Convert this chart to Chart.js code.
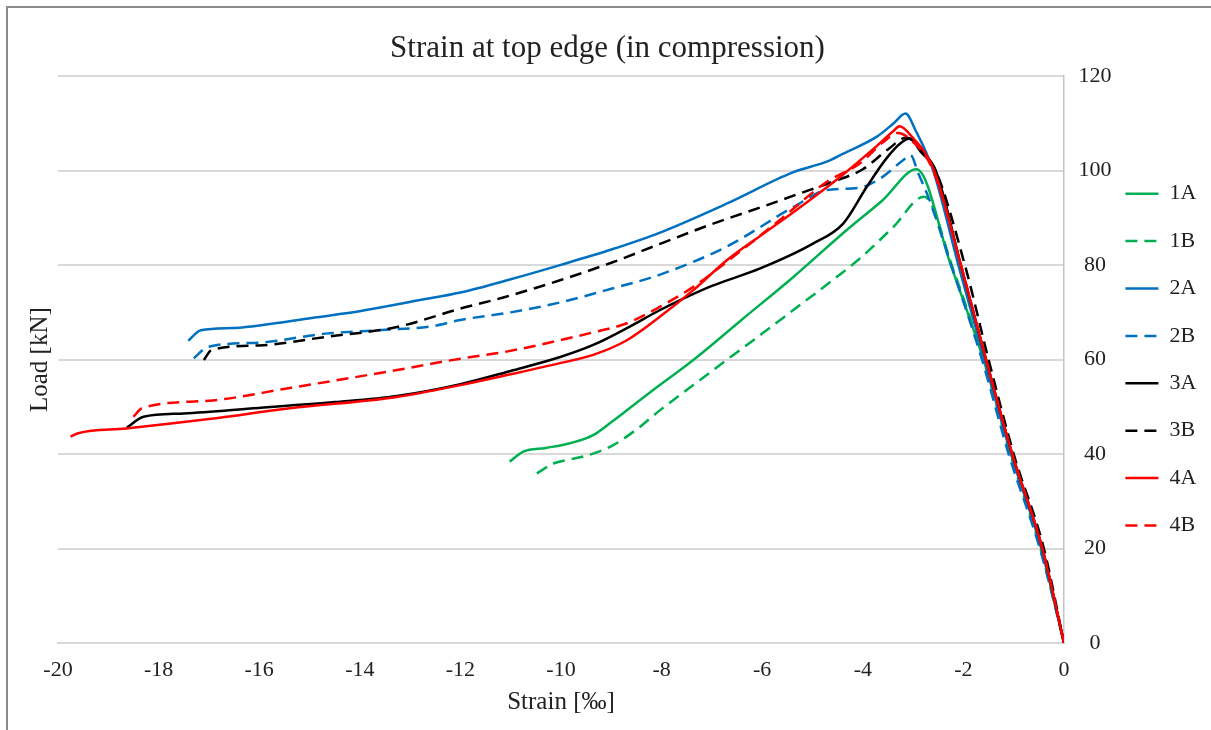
<!DOCTYPE html>
<html>
<head>
<meta charset="utf-8">
<script src="https://cdn.jsdelivr.net/npm/chart.js@4/dist/chart.umd.min.js"></script>
<style>
  html, body { margin: 0; padding: 0; background: #fff; }
  #wrap { position: relative; width: 1211px; height: 730px; overflow: hidden; }
  #frame { position: absolute; left: 6px; top: 6px; width: 1400px; height: 900px;
           border-left: 2px solid #8c8c8c; border-top: 2px solid #8c8c8c; }
  canvas { position: absolute; left: 0; top: 0; }
</style>
</head>
<body>
<div id="wrap"><div id="frame"></div><canvas id="c" width="1211" height="730"></canvas></div>
<script>
// strain [‰] / load [kN]
const x1A = [-11.02, -10.75, -10.3, -9.82, -9.36, -9.03, -8.2, -7.37, -6.4, -5.38, -4.4, -3.6, -2.93, -2.25, -1.6, -1.05, -0.45, 0];
const y1A = [38.4, 40.5, 41.3, 42.3, 44.0, 46.5, 53.3, 59.9, 68.5, 77.5, 86.7, 93.8, 100.3, 80, 60, 40, 20, 0];

const x1B = [-10.48, -10.15, -9.8, -9.36, -8.96, -8.5, -8.03, -7.37, -6.71, -6.0, -5.38, -4.7, -4.06, -3.4, -2.78, -2.2, -1.6, -1.07, -0.47, 0];
const y1B = [35.9, 38.0, 38.9, 40.1, 41.9, 45.2, 49.3, 54.6, 59.9, 65.5, 70.5, 76.0, 81.4, 88.0, 94.5, 79, 60, 40, 20, 0];

const x2A = [-17.41, -17.16, -16.5, -15.75, -14.9, -13.98, -12.8, -12.0, -11.0, -10.02, -9.0, -8.03, -6.71, -5.38, -4.72, -4.39, -3.72, -3.39, -3.15, -2.95, -2.6, -2.1, -1.58, -1.05, -0.45, 0];
const y2A = [64.0, 66.2, 66.7, 67.6, 68.9, 70.3, 72.6, 74.2, 77.0, 80.0, 83.3, 86.9, 93.0, 99.7, 101.9, 103.6, 107.2, 110.0, 112.1, 108.5, 100, 80, 60, 40, 20, 0];

const x2B = [-17.3, -17.02, -16.0, -14.68, -13.5, -12.54, -12.0, -11.0, -10.02, -9.0, -8.03, -6.71, -5.38, -4.72, -4.06, -3.66, -3.2, -3.05, -2.9, -2.7, -2.18, -1.63, -1.1, -0.48, 0];
const y2B = [60.3, 62.7, 63.6, 65.5, 66.3, 67.1, 68.4, 70.0, 72.1, 75.0, 78.0, 83.9, 92.3, 95.9, 96.4, 98.3, 102.2, 103.3, 99.5, 94.5, 78, 60, 40, 20, 0.5];

const x3A = [-18.63, -18.3, -17.5, -16.1, -14.5, -13.26, -12.0, -11.0, -10.0, -9.36, -8.7, -8.03, -7.63, -7.0, -6.04, -5.0, -4.39, -3.92, -3.53, -3.25, -3.06, -2.85, -2.55, -2.05, -1.55, -1.03, -0.43, 0];
const y3A = [45.6, 47.9, 48.6, 49.7, 51.0, 52.3, 54.8, 57.6, 60.6, 63.1, 66.6, 70.5, 72.6, 75.6, 79.3, 84.5, 88.8, 96.6, 102.6, 105.8, 106.8, 104.0, 100, 80, 60, 40, 20, 0];

const x3B = [-17.1, -16.95, -16.0, -14.68, -13.26, -12.0, -11.13, -10.02, -9.0, -8.03, -7.05, -6.04, -5.3, -4.61, -4.0, -3.5, -3.13, -2.9, -2.55, -1.97, -1.5, -1.0, -0.4, 0];
const y3B = [59.9, 62.0, 63.0, 64.8, 66.9, 70.8, 73.2, 76.8, 80.5, 84.5, 88.5, 92.2, 95.0, 97.6, 100.3, 104.5, 107.0, 105, 100, 80, 60, 40, 20, 0];

const x4A = [-19.75, -19.6, -18.65, -17.0, -15.39, -13.26, -12.0, -11.0, -10.0, -9.36, -8.69, -8.03, -7.37, -6.71, -6.0, -5.38, -4.8, -4.39, -3.8, -3.39, -3.27, -3.05, -2.58, -2.05, -1.55, -1.03, -0.43, 0];
const y4A = [43.7, 44.4, 45.4, 47.4, 49.7, 52.1, 54.6, 56.9, 59.3, 61.0, 64.1, 69.1, 74.7, 81.0, 86.5, 91.2, 95.8, 99.2, 104.5, 108.4, 109.4, 107.5, 100, 80, 60, 40, 20, 0];

const x4B = [-18.5, -18.33, -17.0, -15.39, -13.26, -12.0, -11.13, -10.02, -9.35, -8.69, -8.03, -7.37, -6.57, -5.6, -4.72, -4.06, -3.6, -3.3, -3.1, -2.6, -2.05, -1.55, -1.03, -0.43, 0];
const y4B = [47.9, 49.7, 51.3, 54.0, 57.8, 60.2, 61.6, 64.1, 65.8, 67.7, 71.2, 75.4, 81.8, 90.0, 97.6, 101.5, 106.0, 108.0, 107, 100, 80, 60, 40, 20, 0];

const seriesNames = ['1A', '1B', '2A', '2B', '3A', '3B', '4A', '4B'];
const seriesX = [x1A, x1B, x2A, x2B, x3A, x3B, x4A, x4B];
const seriesY = [y1A, y1B, y2A, y2B, y3A, y3B, y4A, y4B];

// styles
const lineColors = ['#00b050', '#00b050', '#0070c0', '#0070c0', '#000000', '#000000', '#ff0000', '#ff0000'];
const dashed = [false, true, false, true, false, true, false, true];
const DASH = [12, 7];
const FONT = "'Liberation Serif', 'Times New Roman', serif";
const TXT = '#222';

const datasets = seriesNames.map((name, i) => ({
  label: name,
  data: seriesX[i].map((x, k) => ({ x, y: seriesY[i][k] })),
  borderColor: lineColors[i],
  backgroundColor: lineColors[i],
  borderWidth: 2.5,
  borderDash: dashed[i] ? DASH : [],
  borderCapStyle: 'butt',
  pointRadius: 0,
  cubicInterpolationMode: 'monotone',
  order: seriesNames.length - i, // later series drawn on top, like Excel
}));

new Chart(document.getElementById('c'), {
  type: 'line',
  data: { datasets },
  options: {
    responsive: false,
    animation: false,
    events: [],
    layout: { padding: { left: 10, right: 6, top: 8, bottom: 8 } },
    scales: {
      x: {
        type: 'linear', min: -20, max: 0,
        ticks: { stepSize: 2, autoSkip: false, maxRotation: 0, padding: 14, color: TXT, font: { family: FONT, size: 22 } },
        grid: { display: false, drawTicks: false },
        border: { display: true, color: '#d9d9d9', width: 2 },
        title: { display: true, text: 'Strain [‰]', color: TXT, font: { family: FONT, size: 25 }, padding: { top: 0, bottom: 5 } },
        afterFit: s => { s.height = 79; },
      },
      y: {
        type: 'linear', position: 'right', min: 0, max: 120,
        // mirrored so the labels are not clipped to the narrow axis box
        ticks: { stepSize: 20, mirror: true, crossAlign: 'center', padding: 47.5, color: TXT, font: { family: FONT, size: 22 } },
        grid: { color: '#d9d9d9', lineWidth: 2, drawTicks: false },
        border: { display: true, color: '#c4c4c4', width: 1.5 },
        afterFit: s => { s.width = 36; },
      },
      yl: {
        type: 'linear', position: 'left',
        ticks: { display: false },
        grid: { display: false, drawTicks: false },
        border: { display: false },
        title: { display: true, text: 'Load [kN]', color: TXT, font: { family: FONT, size: 25 }, padding: { top: 15, bottom: 0 } },
        afterFit: s => { s.width = 48; },
      },
    },
    plugins: {
      title: {
        display: true,
        text: 'Strain at top edge (in compression)',
        color: TXT,
        font: { family: FONT, size: 31, weight: 'normal' },
        padding: { top: 22, bottom: 9 },
      },
      legend: {
        position: 'right',
        fullSize: false,
        maxWidth: 105,
        labels: {
          usePointStyle: true,
          pointStyleWidth: 33,
          padding: 25.4,
          color: TXT,
          font: { family: FONT, size: 22 },
          generateLabels: chart => chart.data.datasets.map((ds, i) => ({
            text: ds.label,
            strokeStyle: ds.borderColor,
            fillStyle: ds.borderColor,
            lineWidth: ds.borderWidth,
            lineDash: ds.borderDash,
            lineCap: 'butt',
            pointStyle: 'line',
            fontColor: TXT,
            hidden: false,
            datasetIndex: i,
          })),
        },
      },
      tooltip: { enabled: false },
    },
  },
});
</script>
</body>
</html>
